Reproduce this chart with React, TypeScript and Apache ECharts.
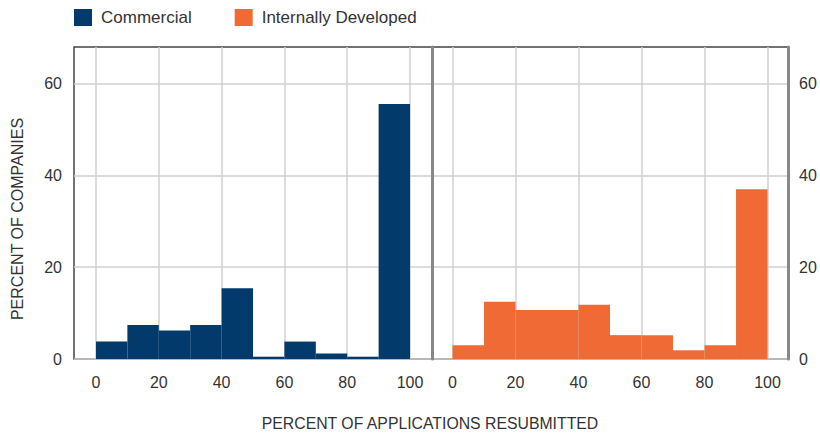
import React, { useEffect, useRef } from "react";
import * as echarts from "echarts";

// Histogram bins: percent of applications resubmitted (bin start, bin end)
const binStarts = [0, 10, 20, 30, 40, 50, 60, 70, 80, 90];
const binWidth = 10;

// Percent of companies per bin
const commercial = [3.8, 7.4, 6.2, 7.4, 15.4, 0.5, 3.8, 1.2, 0.5, 55.6];
const internallyDeveloped = [3.0, 12.5, 10.7, 10.7, 11.8, 5.2, 5.2, 1.9, 3.0, 37.0];

const xTicks = [0, 20, 40, 60, 80, 100];
const yTicks = [0, 20, 40, 60];

const NAVY = "#023a6b";
const ORANGE = "#f06a35";
const FONT = "'Liberation Sans', Arial, sans-serif";
const TEXT = "#333";
const GRID = "#d0d0d0";

const histogramData = (values: number[]) =>
  binStarts.map((s, i) => [s, s + binWidth, values[i]]);

const renderBin = (color: string) => (params: any, api: any) => {
  const x0 = api.value(0);
  const x1 = api.value(1);
  const v = api.value(2);
  const p0 = api.coord([x0, v]);
  const p1 = api.coord([x1, 0]);
  return {
    type: "rect",
    shape: { x: p0[0], y: p0[1], width: p1[0] - p0[0], height: p1[1] - p0[1] },
    style: { fill: color },
  };
};

export default function App() {
  const ref = useRef<HTMLDivElement>(null);

  useEffect(() => {
    document.body.style.margin = "0";
    if (!ref.current) return;
    const chart = echarts.init(ref.current, undefined, { renderer: "svg" });

    const xAxisBase = (gridIndex: number, min: number, max: number) => ({
      type: "value" as const,
      gridIndex,
      min,
      max,
      axisLine: { show: false },
      axisTick: { show: false, customValues: xTicks },
      axisLabel: {
        customValues: xTicks,
        color: TEXT,
        fontFamily: FONT,
        fontSize: 16,
        margin: 15,
      },
      splitLine: { show: true, lineStyle: { color: GRID, width: 1.5 } },
    });

    const yAxisBase = (gridIndex: number, position: "left" | "right") => ({
      type: "value" as const,
      gridIndex,
      position,
      min: 0,
      max: 68,
      axisLine: { show: false },
      axisTick: { show: false, customValues: yTicks },
      axisLabel: {
        customValues: yTicks,
        color: TEXT,
        fontFamily: FONT,
        fontSize: 16,
        margin: position === "left" ? 12 : 11,
      },
      splitLine: { show: true, lineStyle: { color: GRID, width: 1.5 } },
    });

    const frameEdge = (position: "left" | "right") => ({
      type: "value" as const,
      gridIndex: 1,
      position,
      min: 0,
      max: 68,
      axisLine: { show: true, lineStyle: { color: "#888", width: 3 } },
      axisTick: { show: false },
      axisLabel: { show: false },
      splitLine: { show: false },
    });

    chart.setOption({
      animation: false,
      backgroundColor: "#fff",
      legend: {
        left: 69,
        top: 4,
        itemWidth: 18,
        itemHeight: 17,
        itemGap: 43,
        icon: "rect",
        textStyle: {
          color: TEXT,
          fontFamily: FONT,
          fontSize: 17,
          padding: [0, 0, 0, 4],
        },
        data: ["Commercial", "Internally Developed"],
      },
      grid: [
        {
          left: 74,
          top: 47,
          width: 358,
          height: 312,
          show: true,
          borderColor: "#444",
          borderWidth: 1.5,
        },
        {
          left: 432,
          top: 47,
          width: 356,
          height: 312,
          show: true,
          borderColor: "#444",
          borderWidth: 1.5,
        },
      ],
      xAxis: [xAxisBase(0, -7, 107), xAxisBase(1, -6.5, 106.5)],
      yAxis: [
        yAxisBase(0, "left"),
        yAxisBase(1, "right"),
        // divider between the two panels
        frameEdge("left"),
        // right-hand frame edge
        frameEdge("right"),
      ],
      series: [
        {
          name: "Commercial",
          type: "custom",
          xAxisIndex: 0,
          yAxisIndex: 0,
          itemStyle: { color: NAVY },
          renderItem: renderBin(NAVY),
          encode: { x: [0, 1], y: 2 },
          data: histogramData(commercial),
        },
        {
          name: "Internally Developed",
          type: "custom",
          xAxisIndex: 1,
          yAxisIndex: 1,
          itemStyle: { color: ORANGE },
          renderItem: renderBin(ORANGE),
          encode: { x: [0, 1], y: 2 },
          data: histogramData(internallyDeveloped),
        },
      ],
      graphic: [
        {
          type: "text",
          x: 17,
          y: 219,
          rotation: Math.PI / 2,
          style: {
            text: "PERCENT OF COMPANIES",
            fill: TEXT,
            font: `16px ${FONT}`,
            align: "center",
            verticalAlign: "middle",
          },
        },
        {
          type: "text",
          x: 430,
          y: 423,
          style: {
            text: "PERCENT OF APPLICATIONS RESUBMITTED",
            fill: TEXT,
            font: `15.8px ${FONT}`,
            align: "center",
            verticalAlign: "middle",
          },
        },
      ],
    });

    return () => chart.dispose();
  }, []);

  return <div ref={ref} style={{ width: 820, height: 433 }} />;
}
